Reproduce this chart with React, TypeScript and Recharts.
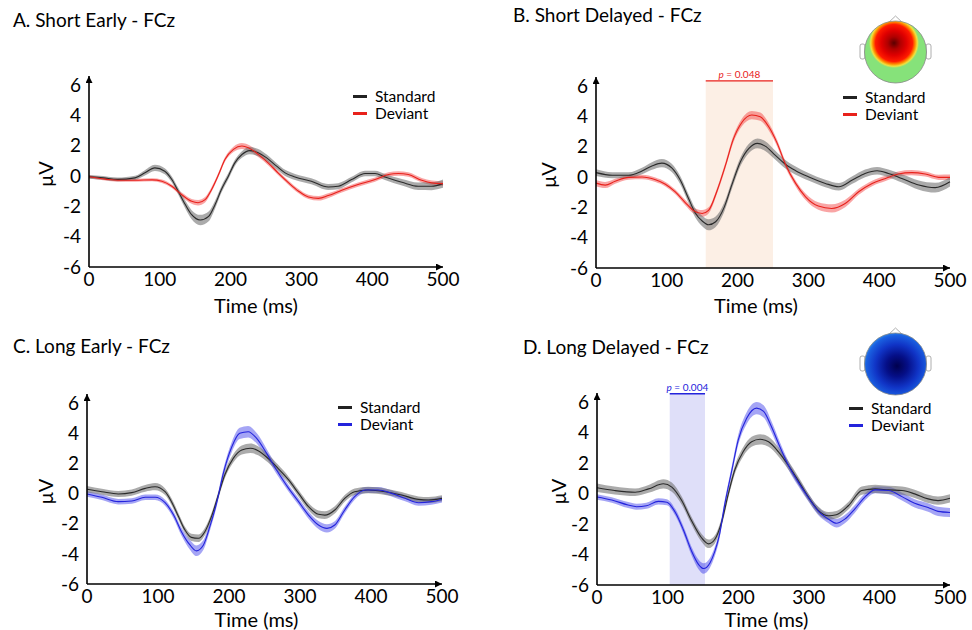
import React from "react";
import { ComposedChart, Area, Line, XAxis, YAxis, ReferenceArea, Legend } from "recharts";

const timeTicks = [0, 100, 200, 300, 400, 500];
const voltTicks = [-6, -4, -2, 0, 2, 4, 6];
const seriesNames = ["Standard", "Deviant"];

// rows: [time (ms), mean (µV), half width of the shaded error band]
const shortEarlyStd = [
  [0, -0.05, 0.12], [20, -0.12, 0.12], [40, -0.22, 0.12], [65, -0.12, 0.14], [79, 0.21, 0.18],
  [93, 0.54, 0.2], [107, 0.32, 0.2], [117, -0.23, 0.2], [126, -1.0, 0.22], [136, -1.88, 0.26],
  [145, -2.55, 0.3], [157, -2.9, 0.34], [169, -2.66, 0.32], [178, -1.89, 0.26], [187, -0.89, 0.22],
  [197, 0.01, 0.2], [206, 0.87, 0.2], [216, 1.42, 0.22], [227, 1.68, 0.24], [239, 1.54, 0.24],
  [251, 1.2, 0.22], [265, 0.65, 0.2], [277, 0.21, 0.2], [291, -0.06, 0.2], [314, -0.34, 0.2],
  [338, -0.72, 0.2], [352, -0.67, 0.2], [371, -0.23, 0.18], [390, 0.17, 0.18], [404, 0.17, 0.18],
  [418, -0.06, 0.2], [442, -0.41, 0.22], [465, -0.67, 0.25], [484, -0.67, 0.26], [500, -0.5, 0.28],
];
const shortEarlyDev = [
  [0, -0.05, 0.1], [23, -0.2, 0.1], [41, -0.28, 0.1], [65, -0.28, 0.1], [89, -0.25, 0.1],
  [103, -0.34, 0.12], [117, -0.67, 0.12], [131, -1.23, 0.14], [145, -1.67, 0.16], [154, -1.76, 0.18],
  [164, -1.56, 0.18], [173, -0.9, 0.16], [183, 0.1, 0.15], [192, 1.09, 0.15], [204, 1.76, 0.18],
  [216, 1.98, 0.2], [225, 1.87, 0.2], [239, 1.43, 0.18], [253, 0.87, 0.15], [267, 0.21, 0.14],
  [282, -0.45, 0.14], [296, -1.0, 0.14], [310, -1.38, 0.14], [324, -1.47, 0.15], [338, -1.29, 0.15],
  [357, -0.94, 0.14], [380, -0.56, 0.14], [404, -0.23, 0.14], [423, 0.1, 0.15], [437, 0.17, 0.15],
  [451, 0.1, 0.15], [470, -0.28, 0.15], [484, -0.45, 0.15], [500, -0.5, 0.15],
];
const shortDelayedStd = [
  [0, 0.29, 0.22], [23, 0.12, 0.2], [46, 0.12, 0.2], [65, 0.4, 0.22], [79, 0.73, 0.25],
  [93, 0.92, 0.27], [107, 0.6, 0.27], [119, -0.2, 0.27], [131, -1.45, 0.28], [140, -2.35, 0.3],
  [150, -2.9, 0.34], [159, -3.15, 0.36], [169, -2.95, 0.34], [181, -2.0, 0.3], [192, -0.5, 0.28],
  [204, 1.01, 0.28], [216, 1.89, 0.3], [228, 2.22, 0.32], [239, 2.04, 0.32], [253, 1.45, 0.3],
  [267, 0.86, 0.28], [282, 0.42, 0.27], [300, 0.02, 0.25], [324, -0.42, 0.25], [343, -0.64, 0.25],
  [362, -0.2, 0.25], [380, 0.24, 0.25], [397, 0.42, 0.25], [413, 0.24, 0.25], [432, -0.09, 0.27],
  [456, -0.53, 0.3], [479, -0.7, 0.32], [500, -0.31, 0.32],
];
const shortDelayedDev = [
  [0, -0.4, 0.2], [13, -0.53, 0.2], [27, -0.28, 0.16], [46, -0.02, 0.15], [65, 0.0, 0.15],
  [84, -0.18, 0.15], [98, -0.47, 0.15], [112, -0.98, 0.16], [126, -1.68, 0.18], [138, -2.22, 0.2],
  [150, -2.4, 0.22], [159, -2.2, 0.2], [171, -0.9, 0.18], [183, 0.8, 0.2], [194, 2.5, 0.22],
  [206, 3.6, 0.25], [220, 4.09, 0.27], [232, 3.98, 0.27], [244, 3.32, 0.25], [256, 2.22, 0.22],
  [267, 0.9, 0.2], [282, -0.42, 0.2], [296, -1.3, 0.22], [314, -1.91, 0.25], [333, -2.07, 0.27],
  [352, -1.74, 0.25], [371, -0.97, 0.2], [390, -0.42, 0.18], [409, -0.09, 0.17], [427, 0.2, 0.17],
  [446, 0.29, 0.17], [465, 0.2, 0.17], [484, -0.02, 0.17], [500, -0.02, 0.18],
];
const longEarlyStd = [
  [0, 0.28, 0.22], [21, 0.12, 0.2], [44, -0.03, 0.2], [63, 0.06, 0.2], [82, 0.34, 0.22],
  [96, 0.45, 0.24], [110, 0.12, 0.22], [119, -0.54, 0.22], [129, -1.54, 0.22], [138, -2.42, 0.22],
  [147, -2.91, 0.24], [157, -2.97, 0.25], [166, -2.53, 0.24], [176, -1.43, 0.22], [185, -0.1, 0.22],
  [194, 1.23, 0.24], [206, 2.33, 0.28], [218, 2.88, 0.3], [230, 3.0, 0.32], [241, 2.84, 0.3],
  [255, 2.33, 0.28], [269, 1.67, 0.25], [284, 0.9, 0.22], [298, 0.01, 0.22], [312, -0.87, 0.24],
  [326, -1.38, 0.26], [335, -1.43, 0.26], [349, -1.09, 0.24], [363, -0.32, 0.22], [377, 0.12, 0.22],
  [396, 0.23, 0.22], [420, 0.12, 0.22], [443, -0.1, 0.2], [467, -0.39, 0.2], [481, -0.43, 0.2],
  [500, -0.32, 0.2],
];
const longEarlyDev = [
  [0, -0.03, 0.18], [21, -0.25, 0.18], [44, -0.54, 0.18], [63, -0.5, 0.18], [82, -0.25, 0.18],
  [96, -0.25, 0.18], [110, -0.61, 0.2], [122, -1.43, 0.22], [133, -2.53, 0.26], [145, -3.41, 0.32],
  [154, -3.8, 0.35], [164, -3.41, 0.32], [173, -2.2, 0.28], [183, -0.54, 0.25], [192, 1.34, 0.28],
  [204, 3.1, 0.34], [215, 3.99, 0.38], [227, 4.1, 0.38], [239, 3.66, 0.35], [253, 2.66, 0.3],
  [267, 1.56, 0.26], [284, 0.34, 0.22], [298, -0.54, 0.22], [312, -1.43, 0.24], [326, -2.09, 0.26],
  [338, -2.31, 0.27], [349, -2.09, 0.25], [363, -1.09, 0.22], [377, -0.21, 0.2], [392, 0.23, 0.2],
  [410, 0.23, 0.2], [429, 0.01, 0.2], [448, -0.32, 0.2], [467, -0.61, 0.2], [485, -0.54, 0.2],
  [500, -0.39, 0.2],
];
const longDelayedStd = [
  [0, 0.38, 0.28], [25, 0.2, 0.26], [54, 0.09, 0.25], [73, 0.31, 0.26], [94, 0.64, 0.3],
  [106, 0.42, 0.3], [120, -0.46, 0.27], [134, -1.79, 0.25], [148, -2.9, 0.26], [158, -3.3, 0.28],
  [167, -3.0, 0.27], [177, -1.79, 0.26], [186, -0.02, 0.26], [195, 1.53, 0.28], [207, 2.74, 0.3],
  [219, 3.4, 0.33], [231, 3.56, 0.34], [243, 3.4, 0.33], [257, 2.74, 0.3], [271, 1.86, 0.28],
  [285, 0.86, 0.26], [299, -0.2, 0.24], [313, -1.08, 0.24], [328, -1.46, 0.25], [339, -1.39, 0.25],
  [356, -0.8, 0.25], [375, 0.2, 0.27], [394, 0.31, 0.27], [413, 0.24, 0.27], [432, 0.2, 0.27],
  [450, -0.02, 0.27], [469, -0.35, 0.27], [483, -0.46, 0.27], [500, -0.31, 0.27],
];
const longDelayedDev = [
  [0, -0.22, 0.18], [21, -0.42, 0.18], [44, -0.75, 0.2], [56, -0.86, 0.2], [70, -0.8, 0.2],
  [87, -0.51, 0.2], [99, -0.57, 0.2], [111, -1.24, 0.22], [122, -2.34, 0.24], [134, -3.78, 0.28],
  [144, -4.66, 0.32], [151, -4.92, 0.34], [160, -4.55, 0.32], [167, -3.78, 0.3], [173, -2.8, 0.3],
  [181, -0.69, 0.28], [191, 1.53, 0.3], [200, 3.51, 0.33], [212, 4.95, 0.38], [226, 5.61, 0.4],
  [236, 5.39, 0.4], [247, 4.4, 0.36], [259, 3.07, 0.32], [271, 1.86, 0.28], [285, 0.75, 0.26],
  [299, -0.24, 0.25], [313, -1.13, 0.26], [328, -1.68, 0.27], [339, -1.95, 0.28], [351, -1.68, 0.27],
  [365, -1.02, 0.25], [380, -0.2, 0.23], [394, 0.24, 0.22], [413, 0.2, 0.24], [432, -0.2, 0.25],
  [450, -0.64, 0.27], [469, -0.91, 0.28], [483, -1.17, 0.3], [500, -1.24, 0.3],
];

// significant windows (ms) and their p values
const shortDelayedWindow = [155, 250];
const shortDelayedP = "0.048";
const longDelayedWindow = [103, 153];
const longDelayedP = "0.004";

const Y_MIN = -6;
const Y_MAX = 6.6; // axis runs a little past the last tick, up to the arrow
const CHART_W = 486;
const CHART_H = 330;

const toRows = (s: number[][]) => s.map(([t, v, e]) => ({ t, v, band: [v - e, v + e] }));

const panels = [
  {
    id: "A", title: "A. Short Early - FCz", left: 0, top: 0, titleX: 13, titleY: 9,
    std: shortEarlyStd, dev: shortEarlyDev, devColor: "#e8211b", devBand: "#f02828",
    margin: { top: 76, right: 43, bottom: 33, left: 49 },
    legend: { left: 353, top: 88 }, yLabelGap: 44, xLabelDx: -10, xLabelDy: 38,
  },
  {
    id: "B", title: "B. Short Delayed - FCz", left: 486, top: 0, titleX: 27, titleY: 4,
    std: shortDelayedStd, dev: shortDelayedDev, devColor: "#e8211b", devBand: "#f02828",
    margin: { top: 77, right: 22, bottom: 32, left: 70 },
    legend: { left: 357, top: 89 }, yLabelGap: 48, xLabelDx: -17, xLabelDy: 37,
    window: shortDelayedWindow, p: shortDelayedP, barY: 6.35, windowFill: "#fcefe5",
  },
  {
    id: "C", title: "C. Long Early - FCz", left: 0, top: 315, titleX: 13, titleY: 20,
    std: longEarlyStd, dev: longEarlyDev, devColor: "#2323dc", devBand: "#2828e8",
    margin: { top: 79, right: 44, bottom: 31, left: 47 },
    legend: { left: 338, top: 84 }, yLabelGap: 42, xLabelDx: -8, xLabelDy: 35,
  },
  {
    id: "D", title: "D. Long Delayed - FCz", left: 486, top: 315, titleX: 37, titleY: 21,
    std: longDelayedStd, dev: longDelayedDev, devColor: "#2323dc", devBand: "#2828e8",
    margin: { top: 78, right: 22, bottom: 30, left: 71 },
    legend: { left: 363, top: 85 }, yLabelGap: 39, xLabelDx: -7, xLabelDy: 34,
    window: longDelayedWindow, p: longDelayedP, barY: 6.55, windowFill: "#dfdff9",
  },
];

const LegendBox = ({ color }: { color: string }) => (
  <div style={{ fontSize: 15.5, lineHeight: "19px", color: "#000" }}>
    {seriesNames.map((name, i) => (
      <div key={name} style={{ display: "flex", alignItems: "center", height: 17 }}>
        <span style={{ display: "inline-block", width: 14, height: 3, background: i === 0 ? "#222" : color, marginRight: 8 }} />
        {name}
      </div>
    ))}
  </div>
);

function ErpPanel({ p }: { p: any }) {
  const stdRows = toRows(p.std);
  const devRows = toRows(p.dev);
  const arrow = `arrow-${p.id}`;
  return (
    <div style={{ position: "absolute", left: p.left, top: p.top }}>
      <ComposedChart width={CHART_W} height={CHART_H} margin={p.margin}>
        <defs>
          <marker id={arrow} viewBox="0 0 10 10" refX="10" refY="5" markerWidth="7" markerHeight="7"
            markerUnits="userSpaceOnUse" orient="auto-start-reverse">
            <path d="M0,0 L10,5 L0,10 z" fill="#000" />
          </marker>
        </defs>
        {p.window && (
          <ReferenceArea
            x1={p.window[0]} x2={p.window[1]} y1={Y_MIN} y2={p.barY}
            fill={p.windowFill} fillOpacity={1} stroke="none" ifOverflow="visible"
            label={{
              content: (props: any) => {
                const vb = props.viewBox ?? props;
                return (
                  <g>
                    <line x1={vb.x} x2={vb.x + vb.width} y1={vb.y} y2={vb.y} stroke={p.devColor} strokeWidth={1.3} />
                    <text x={vb.x + vb.width / 2} y={vb.y - 3} textAnchor="middle" fontSize={10} fill={p.devColor}>
                      <tspan fontStyle="italic">p</tspan> = {p.p}
                    </text>
                  </g>
                );
              },
            }}
          />
        )}
        <XAxis
          type="number" dataKey="t" domain={[0, 500]} ticks={timeTicks} interval={0} height={30}
          tickLine={false} tickMargin={0} tick={{ fill: "#000", fontSize: 19 }}
          axisLine={{ stroke: "#000", strokeWidth: 1.6, markerEnd: `url(#${arrow})` }}
          label={{
            content: (props: any) => {
              const vb = props.viewBox ?? props;
              return (
                <text x={vb.x + vb.width / 2 + p.xLabelDx} y={vb.y + p.xLabelDy} textAnchor="middle"
                  dominantBaseline="central" fontSize={20} fill="#000">Time (ms)</text>
              );
            },
          }}
        />
        <YAxis
          type="number" domain={[Y_MIN, Y_MAX]} ticks={voltTicks} interval={0} width={40}
          tickLine={false} tick={{ fill: "#000", fontSize: 19 }}
          axisLine={{ stroke: "#000", strokeWidth: 1.6, markerStart: `url(#${arrow})` }}
          label={{
            content: (props: any) => {
              const vb = props.viewBox ?? props;
              const x = vb.x + vb.width - p.yLabelGap;
              const y = vb.y + (vb.height * Y_MAX) / (Y_MAX - Y_MIN) - 2;
              return (
                <text x={x} y={y} transform={`rotate(-90 ${x} ${y})`} textAnchor="middle"
                  dominantBaseline="central" fontSize={20} fill="#000">μV</text>
              );
            },
          }}
        />
        <Area data={devRows} dataKey="band" type="monotone" stroke="none" fill={p.devBand} fillOpacity={0.42}
          legendType="none" isAnimationActive={false} />
        <Area data={stdRows} dataKey="band" type="monotone" stroke="none" fill="#6e6e6e" fillOpacity={0.58}
          legendType="none" isAnimationActive={false} />
        <Line data={stdRows} dataKey="v" name={seriesNames[0]} type="monotone" stroke="#2a2a2a" strokeWidth={1.1}
          dot={false} isAnimationActive={false} />
        <Line data={devRows} dataKey="v" name={seriesNames[1]} type="monotone" stroke={p.devColor} strokeWidth={1.1}
          dot={false} isAnimationActive={false} />
        <Legend
          layout="vertical" align="center" verticalAlign="middle"
          wrapperStyle={{ left: p.legend.left, top: p.legend.top, width: "auto" }}
          content={() => <LegendBox color={p.devColor} />}
        />
      </ComposedChart>
    </div>
  );
}

function Topomaps() {
  return (
    <svg width={972} height={630} style={{ position: "absolute", left: 0, top: 0, pointerEvents: "none" }}>
      <defs>
        <radialGradient id="topoRed" gradientUnits="userSpaceOnUse" cx={894} cy={43} r={25}>
          <stop offset="0" stopColor="#5a0000" />
          <stop offset="0.25" stopColor="#b00000" />
          <stop offset="0.5" stopColor="#e00000" />
          <stop offset="0.74" stopColor="#ff1a00" />
          <stop offset="0.85" stopColor="#ff9000" />
          <stop offset="0.93" stopColor="#f0e040" />
          <stop offset="1" stopColor="#86e27a" />
        </radialGradient>
        <radialGradient id="topoBlue" gradientUnits="userSpaceOnUse" cx={897} cy={366} r={36}>
          <stop offset="0" stopColor="#00004e" />
          <stop offset="0.3" stopColor="#050f88" />
          <stop offset="0.6" stopColor="#1034c6" />
          <stop offset="0.85" stopColor="#1a5fe0" />
          <stop offset="1" stopColor="#3aa0ee" />
        </radialGradient>
      </defs>
      {[
        { cy: 52, fill: "url(#topoRed)" },
        { cy: 364, fill: "url(#topoBlue)" },
      ].map((h) => (
        <g key={h.cy}>
          <polygon points={`887,${h.cy - 28} 895.5,${h.cy - 36} 904,${h.cy - 28}`} fill="#fff" stroke="#999" strokeWidth={0.8} />
          <rect x={860} y={h.cy - 8} width={5} height={15} rx={2} fill="#fff" stroke="#999" strokeWidth={0.8} />
          <rect x={926} y={h.cy - 8} width={5} height={15} rx={2} fill="#fff" stroke="#999" strokeWidth={0.8} />
          <circle cx={895.5} cy={h.cy} r={31} fill={h.fill} stroke="#888" strokeWidth={0.8} />
        </g>
      ))}
    </svg>
  );
}

export default function App() {
  return (
    <div style={{ position: "absolute", left: 0, top: 0, width: 972, height: 630, background: "#fff", fontFamily: "Lato, 'Open Sans', sans-serif", color: "#000", overflow: "hidden" }}>
      {panels.map((p) => (
        <ErpPanel key={p.id} p={p} />
      ))}
      {panels.map((p) => (
        <div key={`t-${p.id}`} style={{ position: "absolute", left: p.left + p.titleX, top: p.top + p.titleY, fontSize: 19, lineHeight: "22px", whiteSpace: "nowrap" }}>
          {p.title}
        </div>
      ))}
      <Topomaps />
    </div>
  );
}
